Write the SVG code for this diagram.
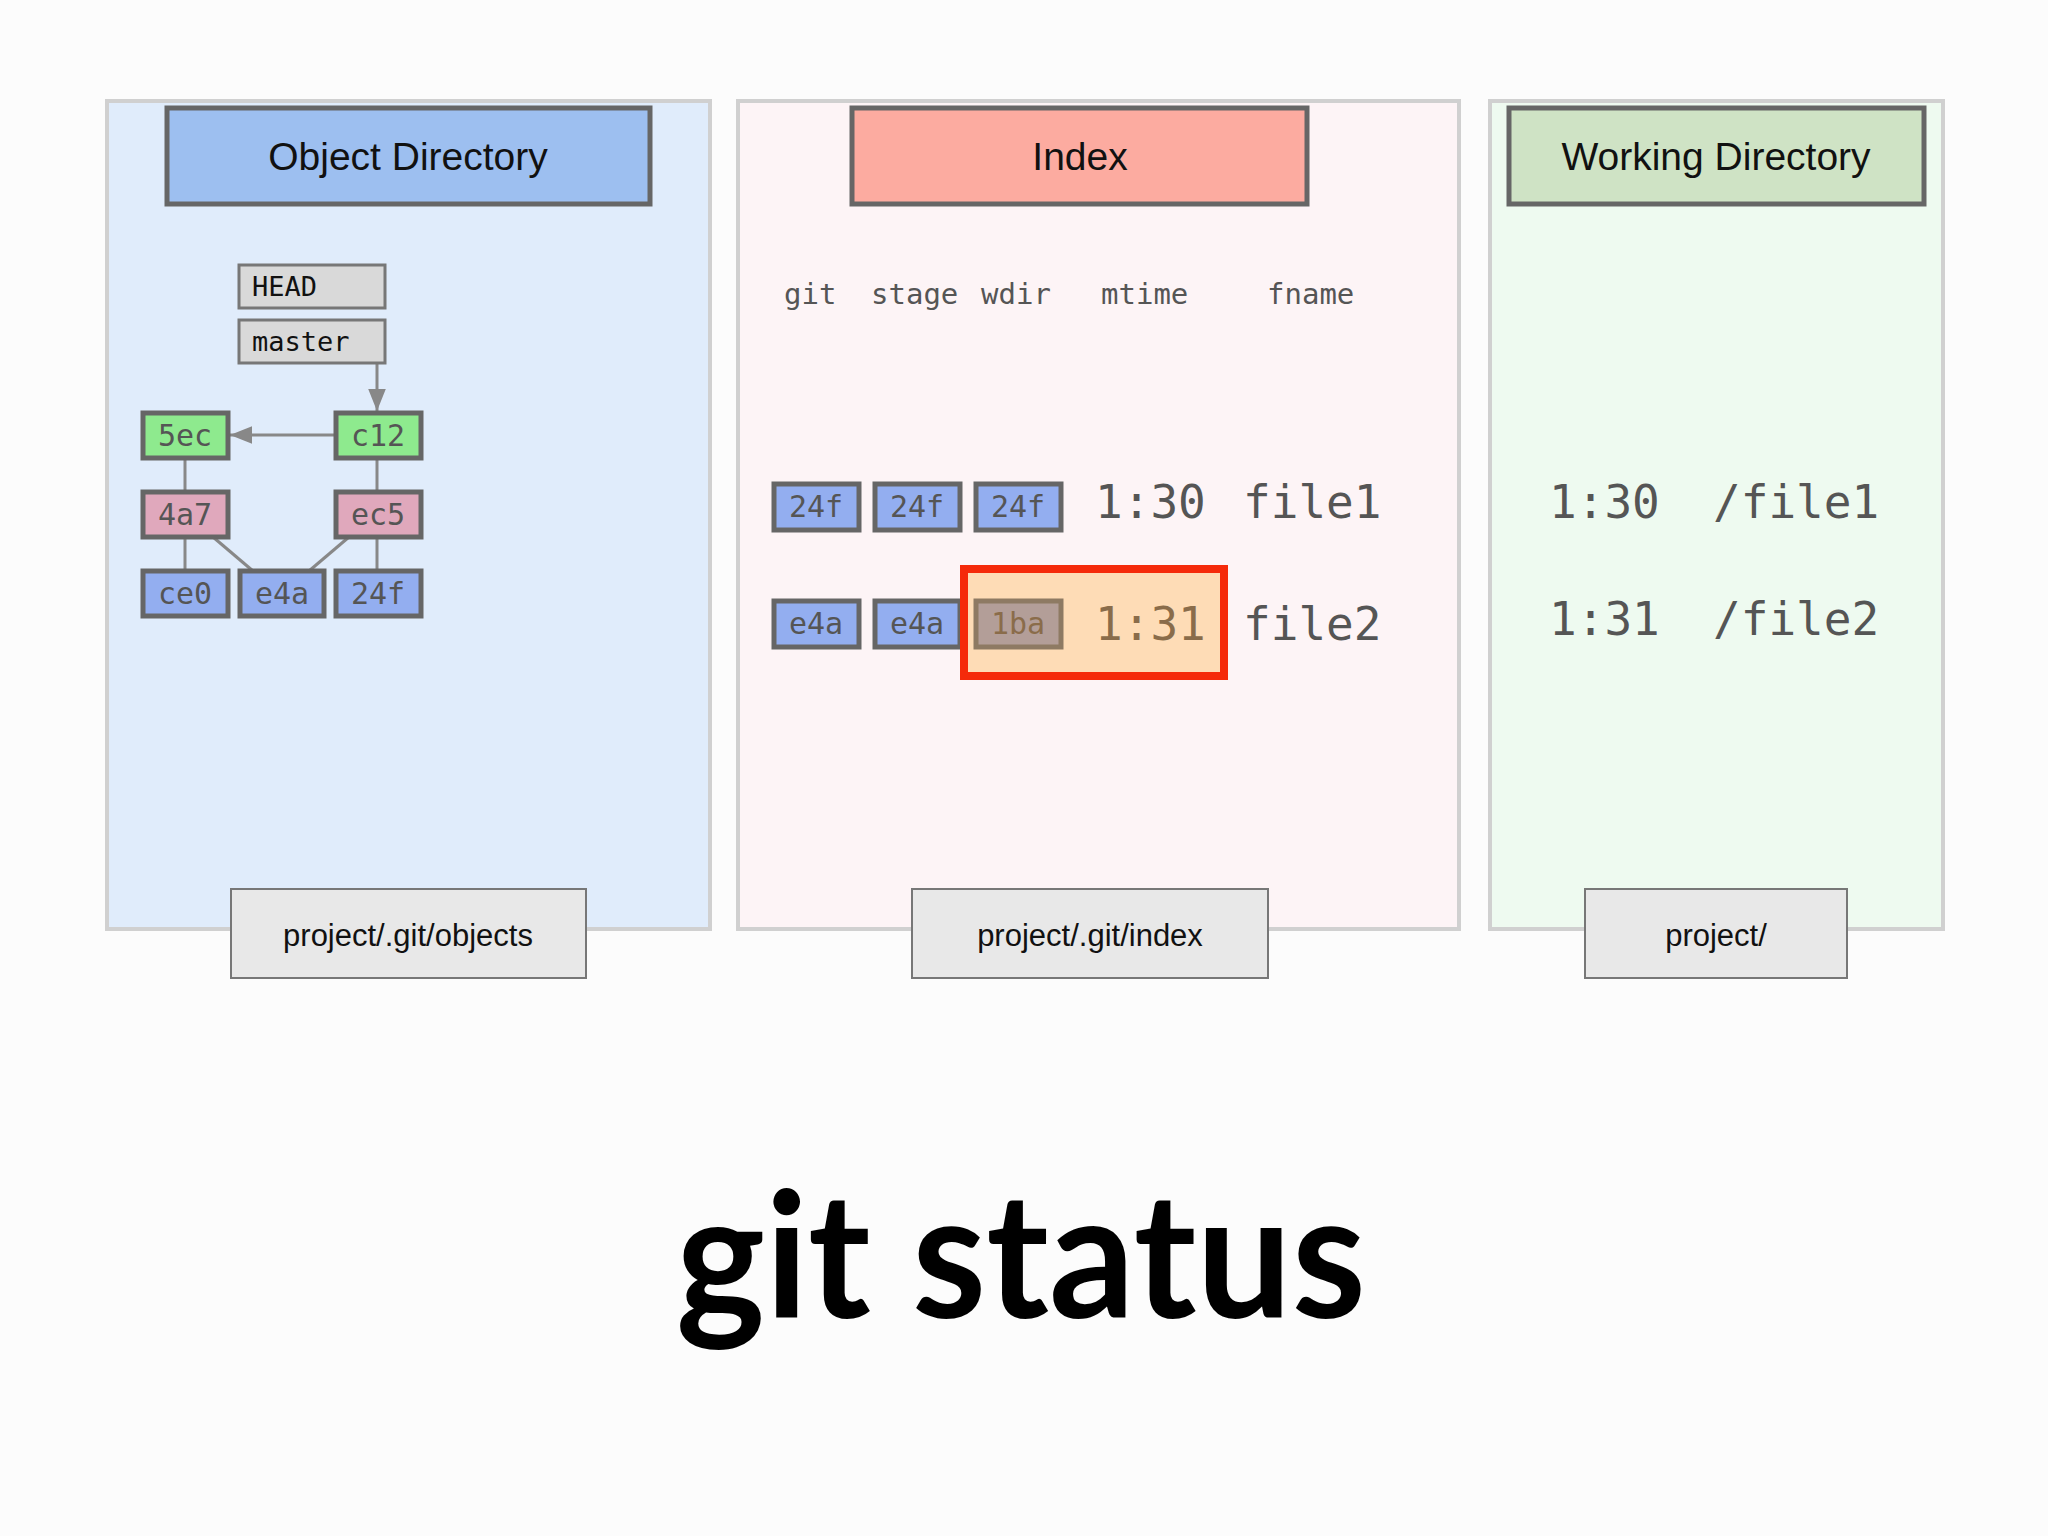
<svg xmlns="http://www.w3.org/2000/svg" width="2048" height="1536" viewBox="0 0 2048 1536">
<defs>
<marker id="ah2" viewBox="0 0 10 10" refX="10" refY="5" markerWidth="22" markerHeight="22" markerUnits="userSpaceOnUse" orient="auto"><path d="M0,1L10,5L0,9z" fill="#888"/></marker>
</defs>
<style>
.panel{stroke:#d0d0d0;stroke-width:4}
.hdr{stroke:#666;stroke-width:5}
.ht{font-family:"Liberation Sans",Arial,sans-serif;font-size:39px;fill:#111;text-anchor:middle}
.lab{fill:#e8e8e8;stroke:#777;stroke-width:2}
.lt{font-family:"Liberation Sans",Arial,sans-serif;font-size:31px;fill:#111;text-anchor:middle}
.nd{stroke:#666;stroke-width:5}
.nt{font-family:"DejaVu Sans Mono",monospace;font-size:30px;fill:#555;text-anchor:middle}
.ref{fill:#d9d9d9;stroke:#777;stroke-width:3}
.rt{font-family:"DejaVu Sans Mono",monospace;font-size:27px;fill:#111}
.g{fill:#8eea8e}.p{fill:#e0a8bc}.b{fill:#93aef0}
.big{font-family:"DejaVu Sans Mono",monospace;font-size:46px;fill:#555}
.col{font-family:"DejaVu Sans Mono",monospace;font-size:29px;fill:#555}
.ln{stroke:#888;stroke-width:3;fill:none}
</style>
<rect width="2048" height="1536" fill="#fcfcfc"/>
<g id="object-directory">
<rect class="panel" x="107" y="101" width="603" height="828" fill="#e0ecfb"/>
<rect class="hdr" x="167" y="108" width="483" height="96" fill="#9dbff0"/>
<text class="ht" x="408" y="170">Object Directory</text>
</g>
<g id="index">
<rect class="panel" x="738" y="101" width="721" height="828" fill="#fdf4f6"/>
<rect class="hdr" x="852" y="108" width="455" height="96" fill="#fcaba0"/>
<text class="ht" x="1080" y="170">Index</text>
</g>
<g id="working-directory">
<rect class="panel" x="1490" y="101" width="453" height="828" fill="#eefaf0"/>
<rect class="hdr" x="1509" y="108" width="415" height="96" fill="#cfe3c5"/>
<text class="ht" x="1716" y="170">Working Directory</text>
</g>
<g id="label-objects"><rect class="lab" x="231" y="889" width="355" height="89"/><text class="lt" x="408" y="946">project/.git/objects</text></g>
<g id="label-index"><rect class="lab" x="912" y="889" width="356" height="89"/><text class="lt" x="1090" y="946">project/.git/index</text></g>
<g id="label-project"><rect class="lab" x="1585" y="889" width="262" height="89"/><text class="lt" x="1716" y="946">project/</text></g>
<g id="connectors">
<line class="ln" x1="377" y1="363" x2="377" y2="411" marker-end="url(#ah2)"/>
<line class="ln" x1="335" y1="435" x2="230" y2="435" marker-end="url(#ah2)"/>
<line class="ln" x1="185" y1="458" x2="185" y2="492"/>
<line class="ln" x1="377" y1="458" x2="377" y2="492"/>
<line class="ln" x1="185" y1="537" x2="185" y2="571"/>
<line class="ln" x1="377" y1="537" x2="377" y2="571"/>
<line class="ln" x1="213" y1="537" x2="253" y2="571"/>
<line class="ln" x1="349" y1="537" x2="309" y2="571"/>
</g>
<g id="HEAD"><rect class="ref" x="239" y="265" width="146" height="43"/><text class="rt" x="252" y="296">HEAD</text></g>
<g id="master"><rect class="ref" x="239" y="320" width="146" height="43"/><text class="rt" x="252" y="351">master</text></g>
<g id="n5ec"><rect class="nd g" x="143" y="413" width="85" height="45"/><text class="nt" x="185" y="446">5ec</text></g>
<g id="nc12"><rect class="nd g" x="336" y="413" width="85" height="45"/><text class="nt" x="378" y="446">c12</text></g>
<g id="n4a7"><rect class="nd p" x="143" y="492" width="85" height="45"/><text class="nt" x="185" y="525">4a7</text></g>
<g id="nec5"><rect class="nd p" x="336" y="492" width="85" height="45"/><text class="nt" x="378" y="525">ec5</text></g>
<g id="nce0"><rect class="nd b" x="143" y="571" width="85" height="45"/><text class="nt" x="185" y="604">ce0</text></g>
<g id="ne4a"><rect class="nd b" x="240" y="571" width="84" height="45"/><text class="nt" x="282" y="604">e4a</text></g>
<g id="n24f"><rect class="nd b" x="336" y="571" width="85" height="45"/><text class="nt" x="378" y="604">24f</text></g>
<g id="columns">
<text class="col" x="784" y="304">git</text>
<text class="col" x="871" y="304">stage</text>
<text class="col" x="981" y="304">wdir</text>
<text class="col" x="1101" y="304">mtime</text>
<text class="col" x="1267" y="304">fname</text>
</g>
<g id="row1">
<rect class="nd b" x="774" y="484" width="85" height="46"/><text class="nt" x="816" y="517">24f</text>
<rect class="nd b" x="875" y="484" width="85" height="46"/><text class="nt" x="917" y="517">24f</text>
<rect class="nd b" x="976" y="484" width="85" height="46"/><text class="nt" x="1018" y="517">24f</text>
<text class="big" x="1095" y="518">1:30</text>
<text class="big" x="1243" y="518">file1</text>
</g>
<g id="row2">
<rect class="nd b" x="774" y="601" width="85" height="46"/><text class="nt" x="816" y="634">e4a</text>
<rect class="nd b" x="875" y="601" width="85" height="46"/><text class="nt" x="917" y="634">e4a</text>
<rect x="964" y="569" width="260" height="107" fill="#fedcb6" stroke="#f52a0a" stroke-width="8"/>
<rect x="976" y="601" width="85" height="46" fill="#b39e98" stroke="#8e7a63" stroke-width="5"/><text class="nt" x="1018" y="634" style="fill:#8a6c4a">1ba</text>
<text class="big" x="1095" y="640" style="fill:#8a6c4a">1:31</text>
<text class="big" x="1243" y="640">file2</text>
</g>
<g id="wd-files">
<text class="big" x="1549" y="518">1:30</text>
<text class="big" x="1713" y="518">/file1</text>
<text class="big" x="1549" y="635">1:31</text>
<text class="big" x="1713" y="635">/file2</text>
</g>
<text x="1021" y="1318" text-anchor="middle" font-family="Lato,'Open Sans',sans-serif" font-weight="bold" font-size="175" fill="#000" textLength="690" lengthAdjust="spacingAndGlyphs">git status</text>
</svg>
